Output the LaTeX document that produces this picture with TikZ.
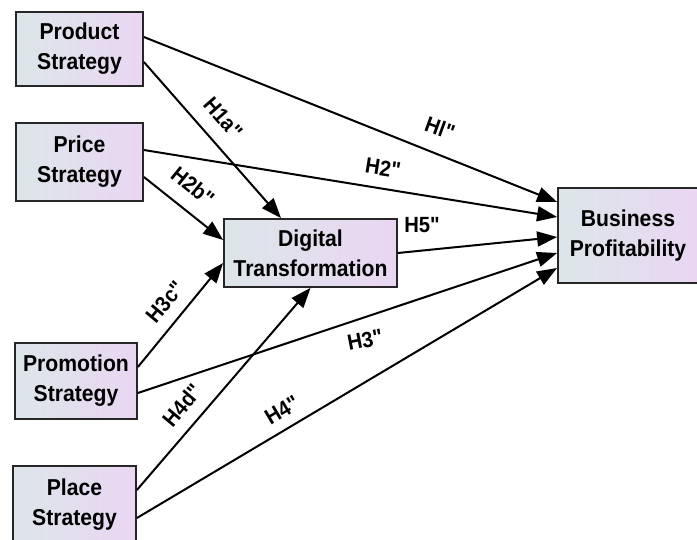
\documentclass[tikz,border=0pt]{standalone}
\usepackage{fontspec}
\setmainfont{Liberation Sans}[FakeStretch=0.92]
\newfontfamily\labfont{Liberation Sans}[FakeStretch=0.92]
\usetikzlibrary{arrows.meta}
\definecolor{boxL}{RGB}{220,230,234}
\definecolor{boxR}{RGB}{234,214,242}
\begin{document}
\begin{tikzpicture}[x=1pt,y=-1pt,
  box/.style={draw=black!85, line width=1.8pt, left color=boxL, right color=boxR,
    font=\fontsize{23}{30}\selectfont\bfseries, align=center, inner sep=0pt},
  arr/.style={line width=2pt, -{Triangle[length=20pt,width=15pt]}},
  lab/.style={font=\labfont\fontsize{22}{22}\selectfont\bfseries, inner sep=0pt}]
\clip (0,0) rectangle (697,540);
\node[box, minimum width=127pt, minimum height=74pt] (prod) at (79.5,49) {Product\\Strategy};
\node[box, minimum width=127pt, minimum height=78pt] (price) at (79.5,162) {Price\\Strategy};
\node[box, minimum width=122pt, minimum height=76pt] (promo) at (76,381) {Promotion\\Strategy};
\node[box, minimum width=123pt, minimum height=78pt] (place) at (74.5,505) {Place\\Strategy};
\node[box, minimum width=173pt, minimum height=68pt] (dt) at (310.5,253) {Digital\\Transformation};
\node[box, minimum width=140pt, minimum height=95pt] (bp) at (628,235.5) {Business\\Profitability};

\draw[arr] ([yshift=12pt]prod.east) -- ([yshift=33.5pt]bp.west);
\draw[arr] ([yshift=-13pt]prod.east) -- ([xshift=-29.5pt]dt.north);
\draw[arr] ([yshift=12pt]price.east) -- ([yshift=18.5pt]bp.west);
\draw[arr] ([yshift=-15pt]price.east) -- ([yshift=13pt]dt.west);
\draw[arr] (dt.east) -- ([yshift=-1.5pt]bp.west);
\draw[arr] ([yshift=14pt]promo.east) -- ([yshift=-10pt]dt.west);
\draw[arr] ([yshift=-12pt]promo.east) -- ([yshift=-17.5pt]bp.west);
\draw[arr] ([yshift=15pt]place.east) -- (dt.south);
\draw[arr] ([yshift=-13pt]place.east) -- ([yshift=-32.5pt]bp.west);

\node[lab, rotate=-49] (l1a) at (223,118) {H1a"};
\node[lab, rotate=-39] (l2b) at (193,186) {H2b"};
\node[lab, rotate=-20] (l1) at (440,128) {Hl"};
\node[lab, rotate=-9] (l2) at (383,168) {H2"};
\node[lab] (l5) at (422,225) {H5"};
\node[lab, rotate=11] (l3) at (365,340) {H3"};
\node[lab, rotate=31] (l4) at (282,410) {H4"};
\node[lab, rotate=50] (l3c) at (165,302) {H3c"};
\node[lab, rotate=50] (l4d) at (182,405) {H4d"};
\end{tikzpicture}
\end{document}
